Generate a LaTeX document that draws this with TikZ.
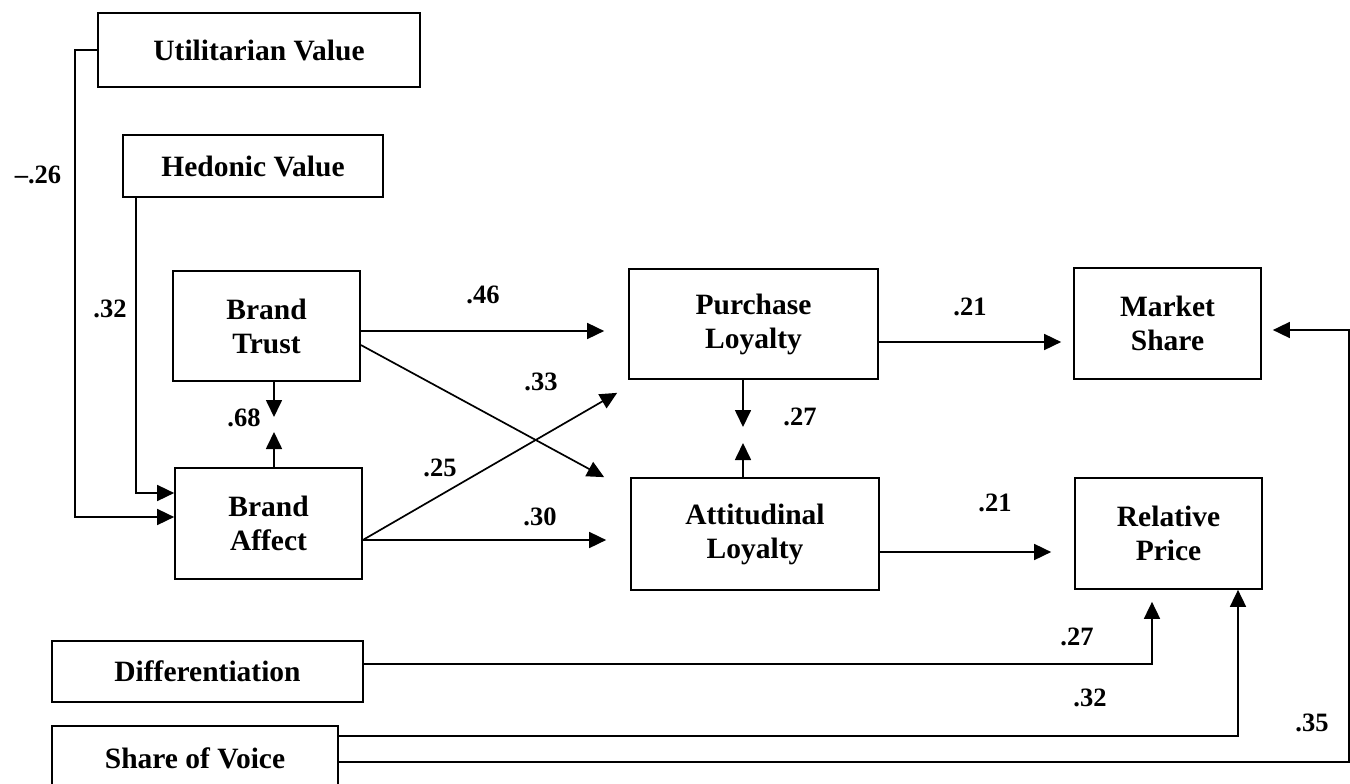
\documentclass[tikz,border=0pt]{standalone}
\usepackage{fontspec}
\setmainfont{Liberation Serif}
\usetikzlibrary{arrows.meta,calc,positioning}

\newcommand{\boxfont}{\fontsize{29.5}{34}\selectfont\bfseries}
\newcommand{\wtfont}{\fontsize{26.5}{30}\selectfont\bfseries}

\begin{document}
\begin{tikzpicture}[x=1pt,y=-1pt,
    box/.style={draw,line width=1.7pt,align=center,font=\boxfont,inner sep=0pt},
    wt/.style={font=\wtfont,inner sep=0pt},
    arr/.style={-{Triangle[length=17pt,width=16pt]},line width=1.7pt}]
  \useasboundingbox (0,0) rectangle (1350,784);
  \clip (0,0) rectangle (1350,784);

  % constructs
  \node[box,minimum width=322pt,minimum height=74pt] (util) at (259,50) {Utilitarian Value};
  \node[box,minimum width=260pt,minimum height=62pt] (hedo) at (253,166) {Hedonic Value};
  \node[box,minimum width=187pt,minimum height=110pt] (trust) at (266.5,326) {Brand\\Trust};
  \node[box,minimum width=187pt,minimum height=111pt] (affect) at (268.5,523.5) {Brand\\Affect};
  \node[box,minimum width=249pt,minimum height=110pt] (purch) at (753.5,324) {Purchase\\Loyalty};
  \node[box,minimum width=248pt,minimum height=112pt] (attit) at (755,534) {Attitudinal\\Loyalty};
  \node[box,minimum width=187pt,minimum height=111pt] (mshare) at (1167.5,323.5) {Market\\Share};
  \node[box,minimum width=187pt,minimum height=111pt] (rprice) at (1168.5,533.5) {Relative\\Price};
  \node[box,minimum width=311pt,minimum height=61pt] (diff) at (207.5,671.5) {Differentiation};
  \node[box,minimum width=286pt,minimum height=64pt] (voice) at (195,758) {Share of Voice};

  % meeting points of the paired arrows
  \coordinate (ta) at (274,424.5);
  \coordinate (pa) at (743,435);

  % paths
  \draw[arr] (util.west) -- ++(-22,0) |- ($(affect.west)+(0,-6.5)$);
  \draw[arr] ($(hedo.south west)+(14,0)$) |- ($(affect.west)+(0,-30.5)$);
  \draw[arr,shorten >=7.5pt] (trust.south -| ta) -- (ta);
  \draw[arr,shorten >=7.5pt] (affect.north -| ta) -- (ta);
  \draw[arr,shorten >=24pt] ($(trust.east)+(0,5)$) -- ($(purch.west)+(0,7)$);
  \draw[arr] ($(trust.east)+(0,19)$) -- ($(attit.north west)+(-26,0)$);
  \draw[arr] ($(affect.east)+(0,16.5)$) -- ($(purch.south west)+(-11,13)$);
  \draw[arr,shorten >=24pt] ($(affect.east)+(0,16.5)$) -- ($(attit.west)+(0,6)$);
  \draw[arr,shorten >=8pt] (purch.south -| pa) -- (pa);
  \draw[arr,shorten >=8pt] (attit.north -| pa) -- (pa);
  \draw[arr,shorten >=12pt] ($(purch.east)+(0,18)$) -- ($(mshare.west)+(0,18.5)$);
  \draw[arr,shorten >=23pt] ($(attit.east)+(0,18)$) -- ($(rprice.west)+(0,18.5)$);
  \draw[arr,shorten >=12pt] ($(diff.east)+(0,-7.5)$) -| ($(rprice.south)+(-16.5,0)$);
  \draw[arr] ($(voice.east)+(0,-22)$) -| ($(rprice.south)+(69.5,0)$);
  \draw[arr,shorten >=11pt] ($(voice.east)+(0,4)$) -- ++(1010,0) |- ($(mshare.east)+(0,6.5)$);

  % path coefficients
  \node[wt] (w26) at (38,175) {–.26};
  \node[wt] (w32a) at (110,309) {.32};
  \node[wt] (w68) at (244,418) {.68};
  \node[wt] (w46) at (483,295) {.46};
  \node[wt] (w33) at (541,382) {.33};
  \node[wt] (w25) at (440,468) {.25};
  \node[wt] (w30) at (540,517) {.30};
  \node[wt] (w27a) at (800,417) {.27};
  \node[wt] (w21a) at (970,307) {.21};
  \node[wt] (w21b) at (995,503) {.21};
  \node[wt] (w27b) at (1077,637) {.27};
  \node[wt] (w32b) at (1090,698) {.32};
  \node[wt] (w35) at (1312,723) {.35};
\end{tikzpicture}
\end{document}
